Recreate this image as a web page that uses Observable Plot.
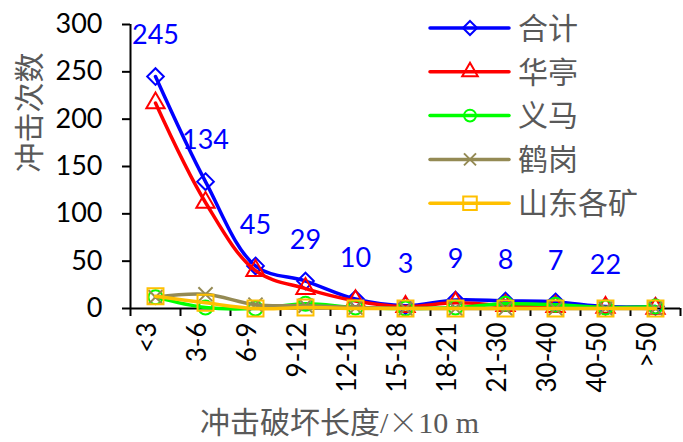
<!DOCTYPE html>
<html><head><meta charset="utf-8">
<script src="https://cdn.jsdelivr.net/npm/d3@7"></script>
<script src="https://cdn.jsdelivr.net/npm/@observablehq/plot@0.6"></script>
<style>
body{margin:0;background:#fff}
#wrap{position:relative;width:683px;height:442px;overflow:hidden}
#legend{position:absolute;left:0;top:0}
</style>
</head><body><div id="wrap"></div>
<script>
const categories = ["<3","3-6","6-9","9-12","12-15","15-18","18-21","21-30","30-40","40-50",">50"];
const seriesNames = ["合计","华亭","义马","鹤岗","山东各矿"];
const total    = [245, 134, 45, 29, 10, 3, 9, 8, 7, 2, 2];
const huating  = [217, 112, 40, 21, 8, 2, 6, 3, 2, 1, 0];
const yima     = [12, 1, 0, 5, 1, 0, 1, 5, 4, 1, 2];
const hegang   = [12, 15, 4, 3, 1, 0, 0, 0, 0, 0, 0];
const shandong = [13, 6, 0, 1, 0, 0, 0, 0, 0, 0, 0];
const totalLabels = ["245","134","45","29","10","3","9","8","7","22",""];
const yTicks = [0, 50, 100, 150, 200, 250, 300];
const yTitle = "冲击次数";
const xTitleParts = ["冲击破坏长度/", "×", "10 m"];

const colors  = ["#0000FF","#FF0000","#00FF00","#948A54","#FFC000"];
const symbols = ["diamond2","triangle","circle","times","square"];
const markerR = [7.5, 6.8, 7, 6.5, 9];
const seriesValues = [total, huating, yima, hegang, shandong];

const rows = seriesNames.map((name, s) => seriesValues[s].map((v, i) => ({series: name, s, i, v})));

const numFont = "Lato, 'Liberation Sans', sans-serif";
const cjkFont = "'Liberation Serif', 'Noto Sans CJK SC', serif";

const seriesMarks = rows.flatMap((data, s) => [
  Plot.line(data, {x: d => d.i + 0.5, y: "v", stroke: colors[s], strokeWidth: 3.5, curve: "catmull-rom"}),
  Plot.dot(data, {x: d => d.i + 0.5, y: "v", symbol: () => symbols[s], r: markerR[s], stroke: colors[s], fill: "none", strokeWidth: 2})
]);

const chart = Plot.plot({
  width: 683, height: 442,
  marginLeft: 130, marginRight: 3, marginTop: 24, marginBottom: 134,
  style: {fontFamily: numFont, fontSize: "26px", color: "#000", background: "#fff"},
  x: {domain: [0, categories.length]},
  y: {domain: [0, 300]},
  marks: [
    Plot.axisY({ticks: yTicks, tickSize: 8, tickPadding: 20, strokeWidth: 2, label: null, fontSize: 27}),
    Plot.axisX({ticks: d3.range(categories.length + 1), tickSize: 8, strokeWidth: 2, tickFormat: () => "", label: null}),
    Plot.ruleX([0], {strokeWidth: 2}),
    Plot.ruleY([0], {strokeWidth: 2}),
    ...seriesMarks,
    Plot.text(categories, {x: (d, i) => i + 0.5, frameAnchor: "bottom", rotate: -90, textAnchor: "end", dy: 14, text: d => d, fontSize: 26, fill: "#000"}),
    Plot.text(total, {x: (d, i) => i + 0.5, y: d => d, text: (d, i) => totalLabels[i], dy: -41, fill: "#0000FF", fontSize: 27}),
    Plot.text([yTitle], {frameAnchor: "left", dx: -100, dy: 6, rotate: -90, text: d => d, fontSize: 30, fill: "#595959", fontFamily: cjkFont}),
    Plot.text([xTitleParts.join("")], {frameAnchor: "bottom", dx: -66, dy: 124, text: d => d, fontSize: 30, fill: "#595959", fontFamily: cjkFont, className: "xtitle"})
  ]
});
document.getElementById("wrap").appendChild(chart);

// Give the multiplication sign the full-width CJK glyph, like the reference
d3.select(chart).selectAll("g.xtitle text").each(function() {
  const t = d3.select(this);
  t.text(null);
  t.append("tspan").text(xTitleParts[0]);
  t.append("tspan").attr("font-family", "'Noto Sans CJK SC'").attr("font-weight", 300).text(xTitleParts[1]);
  t.append("tspan").attr("font-family", "'Liberation Serif'").text(xTitleParts[2]);
});

// Legend overlay
const leg = d3.select("#wrap").append("svg").attr("id", "legend").attr("width", 683).attr("height", 240);
const symMap = {diamond2: d3.symbolDiamond2, triangle: d3.symbolTriangle, circle: d3.symbolCircle, times: d3.symbolTimes, square: d3.symbolSquare};
seriesNames.forEach((name, s) => {
  const cy = 28 + s * 43.8;
  const g = leg.append("g");
  g.append("line").attr("x1", 430).attr("x2", 509).attr("y1", cy).attr("y2", cy)
    .attr("stroke", colors[s]).attr("stroke-width", 3.5).attr("stroke-linecap", "round");
  const r = markerR[s] * 0.85;
  g.append("path").attr("d", d3.symbol(symMap[symbols[s]], r * r * Math.PI)())
    .attr("transform", `translate(470,${cy})`)
    .attr("fill", "none").attr("stroke", colors[s]).attr("stroke-width", 2);
  g.append("text").attr("x", 518).attr("y", cy).attr("dy", "0.36em")
    .attr("font-family", cjkFont).attr("font-size", 30).attr("fill", "#595959").text(name);
});
</script>
</body></html>
